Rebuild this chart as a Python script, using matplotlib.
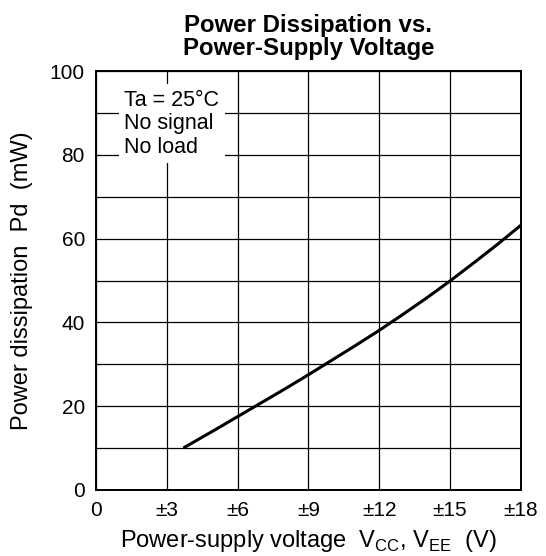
import numpy as np
import matplotlib.pyplot as plt

plt.rcParams['font.family'] = ['Liberation Sans', 'DejaVu Sans']
plt.rcParams['mathtext.fontset'] = 'custom'
plt.rcParams['mathtext.rm'] = 'Liberation Sans'

# curve
vcc = [3.7, 5.0, 6.0, 7.0, 8.0, 9.0, 10.0, 11.0, 12.0, 13.0, 14.0, 15.0, 16.0, 17.0, 18.0]
pd_mw = [10.0, 14.2, 17.5, 20.8, 24.1, 27.5, 31.0, 34.5, 38.1, 41.9, 45.8, 49.9, 54.2, 58.6, 63.2]

xticks = [0, 3, 6, 9, 12, 15, 18]
xlabels = ['0', '±3', '±6', '±9', '±12', '±15', '±18']
yticks = [0, 20, 40, 60, 80, 100]

fig = plt.figure(figsize=(5.46, 5.56), dpi=100)
ax = fig.add_axes([0.176, 0.119, 0.778, 0.753])

ax.plot(vcc, pd_mw, color='black', lw=2.2, solid_capstyle='butt')

ax.set_xlim(0, 18)
ax.set_ylim(0, 100)
ax.set_xticks(xticks)
ax.set_xticklabels(xlabels)
ax.set_yticks(yticks)
ax.set_yticks(np.arange(10, 100, 20), minor=True)
ax.tick_params(which='both', length=0, labelsize=15)
ax.tick_params(axis='x', pad=8)
ax.tick_params(axis='y', pad=8)
ax.grid(which='both', color='black', lw=0.9)
for s in ax.spines.values():
    s.set_linewidth(1.4)

ax.text(1.2, 95.5, 'Ta = 25°C\nNo signal\nNo load', fontsize=15.5, va='top', ha='left',
        linespacing=1.15,
        bbox=dict(facecolor='white', edgecolor='none', pad=4))

ax.set_xlabel(r'Power-supply voltage  V$_{\mathrm{CC}}$, V$_{\mathrm{EE}}$  (V)', fontsize=17, labelpad=6)
ax.set_ylabel('Power dissipation  Pd  (mW)', fontsize=17, labelpad=12)
ax.set_title('Power Dissipation vs.\nPower-Supply Voltage', fontsize=17.3, fontweight='bold',
             linespacing=1.0, pad=12)

fig.savefig('out.png', dpi=100)
